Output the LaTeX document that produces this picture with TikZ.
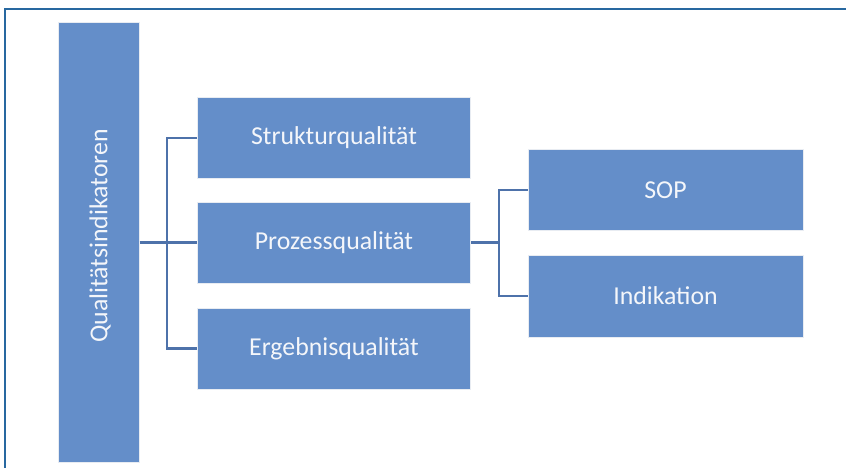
\documentclass[tikz,border=0pt]{standalone}
\usepackage{fontspec}
\setmainfont{Carlito}
\definecolor{boxfill}{RGB}{100,142,201}
\definecolor{linecol}{RGB}{78,114,170}
\definecolor{framecol}{RGB}{40,104,160}
\definecolor{edgecol}{RGB}{232,236,242}
\definecolor{txtcol}{RGB}{244,246,250}
\begin{document}
\begin{tikzpicture}[x=1pt,y=-1pt,
  qfont/.style={font=\fontsize{25.8}{30}\selectfont},
  qbox/.style={fill=boxfill,draw=edgecol,line width=1pt,inner sep=0pt,text=txtcol,qfont},
  conn/.style={draw=linecol,line width=2.6pt}]
\useasboundingbox (0,0) rectangle (846,468);
\draw[framecol,line width=2pt] (5,468) -- (5,9.5) -- (846,9.5);
% main vertical box
\node[qbox,minimum width=81pt,minimum height=439pt] (qi) at (98.5,242.5) {};
\node[rotate=90,text=txtcol,qfont] (qit) at (100,236) {Qualitätsindikatoren};
% level 2
\node[qbox,minimum width=273pt,minimum height=80pt] (sq) at (334,138) {Strukturqualität};
\node[qbox,minimum width=273pt,minimum height=81pt] (pq) at (334,242.5) {Prozessqualität};
\node[qbox,minimum width=273pt,minimum height=81pt] (eq) at (334,348.5) {Ergebnisqualität};
% level 3
\node[qbox,minimum width=275pt,minimum height=80pt] (sop) at (665.5,190) {SOP};
\node[qbox,minimum width=275pt,minimum height=82pt] (ind) at (665.5,296) {Indikation};
% connectors
\coordinate (lb) at (167,0);
\coordinate (rb) at (499,0);
\draw[conn] (qi.east |- pq.west) -- (pq.west);
\draw[conn] (sq.west) -| (lb |- sq.west) |- (eq.west);
\draw[conn] (pq.east) -- (rb |- pq.east);
\draw[conn] (sop.west) -| (rb |- sop.west) |- (ind.west);
\end{tikzpicture}
\end{document}
